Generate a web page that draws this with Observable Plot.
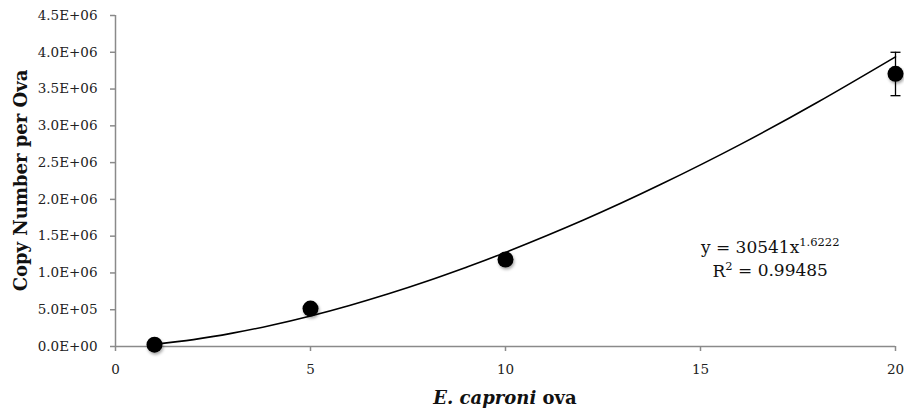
<!DOCTYPE html>
<html>
<head>
<meta charset="utf-8">
<script src="https://cdn.jsdelivr.net/npm/d3@7"></script>
<script src="https://cdn.jsdelivr.net/npm/@observablehq/plot@0.6"></script>
<style>
  html, body { margin: 0; padding: 0; background: #fff; }
  #chart svg { display: block; }
</style>
</head>
<body>
<div id="chart"></div>
<script>
const ovaCounts = [1, 5, 10, 20];
const copyNumbers = [25000, 516000, 1183000, 3707000];
const errorLow = [null, null, null, 3410000];
const errorHigh = [null, null, null, 4000000];

// Power trendline as drawn (y = 30541x^1.6222)
const trendX = [1, 2, 3, 4, 5, 6, 7, 8, 9, 10, 12, 14, 16, 18, 20];
const trendY = [30541, 94000, 181500, 289400, 415700, 558700, 717500, 890600, 1078700, 1279600, 1719600, 2208200, 2741200, 3320300, 3938000];

// Ticks
const xTicks = [0, 5, 10, 15, 20];
const yTicks = [0, 500000, 1000000, 1500000, 2000000, 2500000, 3000000, 3500000, 4000000, 4500000];

// Labels
const yTitle = "Copy Number per Ova";
const xTitleItalic = "E. caproni";
const xTitleRest = " ova";
const eqMain = "y = 30541x";
const eqExp = "1.6222";
const r2Label = "R";
const r2Value = " = 0.99485";
const eqAnchor = {x: 16.8, y: 1270000};

const points = ovaCounts.map((x, i) => ({x, y: copyNumbers[i], lo: errorLow[i], hi: errorHigh[i]}));
const bars = points.filter(d => d.lo != null);
const trend = trendX.map((x, i) => ({x, y: trendY[i]}));

const fmt = d => {
  const [m, e] = d.toExponential(1).split("e");
  const n = +e;
  return m + "E" + (n < 0 ? "-" : "+") + String(Math.abs(n)).padStart(2, "0");
};

const capSymbol = {
  draw(ctx) { ctx.moveTo(-5, 0); ctx.lineTo(5, 0); }
};

const plot = Plot.plot({
  width: 904,
  height: 411,
  marginLeft: 115,
  marginRight: 9,
  marginTop: 15,
  marginBottom: 65,
  style: {fontFamily: "'DejaVu Serif', serif", fontSize: "13.5px", color: "#222", background: "#fff"},
  x: {domain: [0, 20]},
  y: {domain: [0, 4500000]},
  marks: [
    Plot.ruleX([0], {stroke: "#8a8a8a", strokeWidth: 1.5}),
    Plot.ruleY([0], {stroke: "#8a8a8a", strokeWidth: 1.5}),
    Plot.axisY({ticks: yTicks, tickFormat: fmt, tickSize: 5, tickPadding: 13, stroke: "#8a8a8a", strokeWidth: 1.5, fill: "#222", label: null}),
    Plot.axisX({ticks: xTicks, tickFormat: d => String(d), tickSize: 5, tickPadding: 13, stroke: "#8a8a8a", strokeWidth: 1.5, fill: "#222", label: null}),
    Plot.line(trend, {x: "x", y: "y", curve: "natural", stroke: "#000", strokeWidth: 1.6}),
    Plot.ruleX(bars, {x: "x", y1: "lo", y2: "hi", stroke: "#000", strokeWidth: 1.3}),
    Plot.dot(bars, {x: "x", y: "lo", symbol: capSymbol, stroke: "#000", strokeWidth: 1.3, r: 5}),
    Plot.dot(bars, {x: "x", y: "hi", symbol: capSymbol, stroke: "#000", strokeWidth: 1.3, r: 5}),
    Plot.dot(points, {x: "x", y: "y", r: 8, fill: "#000", stroke: "none"})
  ]
});

document.getElementById("chart").appendChild(plot);

const svg = d3.select(plot);
const xs = plot.scale("x"), ys = plot.scale("y");

// shadow on dots
svg.selectAll("g[aria-label='dot'] circle").style("filter", "drop-shadow(1px 2px 1.5px rgba(0,0,0,0.35))");

// Y axis title
svg.append("text")
  .attr("transform", `translate(20,${(15 + 346) / 2}) rotate(-90)`)
  .attr("text-anchor", "middle")
  .attr("dominant-baseline", "central")
  .attr("font-family", "'DejaVu Serif', serif")
  .attr("font-weight", "bold")
  .attr("font-size", "18px")
  .attr("fill", "#111")
  .text(yTitle);

// X axis title
const xt = svg.append("text")
  .attr("x", (115 + 895) / 2)
  .attr("y", 397)
  .attr("text-anchor", "middle")
  .attr("dominant-baseline", "central")
  .attr("font-family", "'DejaVu Serif', serif")
  .attr("font-weight", "bold")
  .attr("font-size", "18px")
  .attr("fill", "#111");
xt.append("tspan").attr("font-style", "italic").text(xTitleItalic);
xt.append("tspan").attr("font-style", "normal").text(xTitleRest);

// Equation
const ex = xs.apply(eqAnchor.x), ey = ys.apply(eqAnchor.y);
const eq1 = svg.append("text")
  .attr("x", ex).attr("y", ey)
  .attr("text-anchor", "middle")
  .attr("font-family", "'DejaVu Serif', serif")
  .attr("font-size", "17px")
  .attr("fill", "#111");
eq1.append("tspan").text(eqMain);
eq1.append("tspan").attr("dy", "-0.6em").attr("font-size", "11.5px").text(eqExp);

const eq2 = svg.append("text")
  .attr("x", ex).attr("y", ey + 24)
  .attr("text-anchor", "middle")
  .attr("font-family", "'DejaVu Serif', serif")
  .attr("font-size", "17px")
  .attr("fill", "#111");
eq2.append("tspan").text(r2Label);
eq2.append("tspan").attr("dy", "-0.6em").attr("font-size", "11.5px").text("2");
eq2.append("tspan").attr("dy", "0.4em").text(r2Value);
</script>
</body>
</html>
